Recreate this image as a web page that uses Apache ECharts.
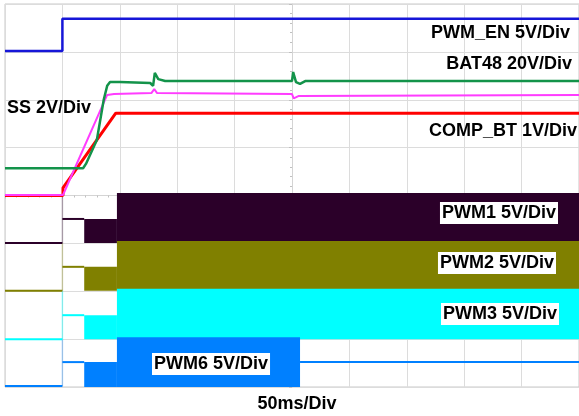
<!DOCTYPE html>
<html>
<head>
<meta charset="utf-8">
<script src="https://cdn.jsdelivr.net/npm/echarts@6/dist/echarts.min.js"></script>
<style>
html,body{margin:0;padding:0;background:#fff;}
#chart{width:579px;height:416px;}
</style>
</head>
<body>
<div id="chart"></div>
<script>
// All values in oscilloscope divisions (x: -5..5, y: -4..4, centre = 0,0)
const xTicks = [-5,-4,-3,-2,-1,0,1,2,3,4,5];
const yTicks = [-4,-3,-2,-1,0,1,2,3,4];

const pwmEn = [[-5,3.02],[-4,3.02],[-4,3.69],[5,3.69]];
const bat48 = [[-5,0.57],[-3.64,0.57],[-3.59,0.66],[-3.40,1.16],[-3.28,2.0],[-3.22,2.29],[-3.17,2.37],[-3.0,2.37],[-2.47,2.35],[-2.44,2.32],[-2.42,2.29],[-2.39,2.56],[-2.33,2.43],[-2.21,2.39],[0,2.39],[0.02,2.58],[0.07,2.37],[0.14,2.33],[0.23,2.39],[1.81,2.39],[1.83,2.35],[1.86,2.39],[5,2.39]];
const ss = [[-5,0.01],[-3.99,0.01],[-3.22,2.10],[-3.1,2.12],[-2.45,2.14],[-2.40,2.22],[-2.35,2.14],[0,2.12],[0.03,2.03],[0.12,2.08],[5,2.10]];
const compBt = [[-5,0],[-3.99,0],[-3.99,0.16],[-3.07,1.72],[5,1.72]];

const pwm1Pre = [[-5,-0.99],[-4,-0.99]];
const pwm1Mid = [[-4,-0.49],[-3.62,-0.49]];
const pwm1Edge = [[-4,-0.99],[-4,0.02]];
const pwm1Blocks = [[-3.62,-3.05,-0.99,-0.49],[-3.05,5,-0.99,0.05]];

const pwm2Pre = [[-5,-1.99],[-4,-1.99]];
const pwm2Mid = [[-4,-1.49],[-3.62,-1.49]];
const pwm2Edge = [[-4,-1.99],[-4,-0.99]];
const pwm2Blocks = [[-3.62,-3.05,-1.99,-1.49],[-3.05,5,-1.99,-0.95]];

const pwm3Pre = [[-5,-3.0],[-4,-3.0]];
const pwm3Mid = [[-4,-2.5],[-3.62,-2.5]];
const pwm3Edge = [[-4,-3.0],[-4,-1.99]];
const pwm3Blocks = [[-3.62,-3.05,-3.0,-2.5],[-3.05,5,-3.0,-1.95]];

const pwm6Pre = [[-5,-3.98],[-4,-3.98]];
const pwm6Mid = [[-4,-3.48],[-3.62,-3.48]];
const pwm6Post = [[0.14,-3.48],[5,-3.48]];
const pwm6Edge = [[-4,-3.98],[-4,-3.0]];
const pwm6Blocks = [[-3.62,-3.05,-4,-3.48],[-3.05,0.14,-4,-2.96]];

const colors = {
  en:'#1616d8', bat:'#13934a', ss:'#ff3cff', comp:'#ff0000',
  p1:'#2b0029', p2:'#808000', p3:'#00ffff', p6:'#0080ff'
};

function lineSeries(data, color, width, opacity){
  return {type:'line', data:data, symbol:'none', silent:true,
    lineStyle:{color:color, width:width, opacity:opacity==null?1:opacity}, z:3};
}
function blockSeries(data, color){
  return {type:'custom', data:data, silent:true, z:2,
    encode:{x:[0,1], y:[2,3]},
    renderItem:function(params, api){
      const p0 = api.coord([api.value(0), api.value(3)]);
      const p1 = api.coord([api.value(1), api.value(2)]);
      return {type:'rect', shape:{x:p0[0], y:p0[1], width:p1[0]-p0[0], height:p1[1]-p0[1]},
        style:{fill:color}};
    }};
}

const font = 'bold 18px "Liberation Sans", Arial, sans-serif';
function label(text, x, y, align, boxed){
  const st = {text:text, x:x, y:y, font:font, fill:'#000', align:align, verticalAlign:'middle'};
  if (boxed){ st.backgroundColor = '#fff'; st.padding = [2,2,2,2]; }
  return {type:'text', z:100, style:st};
}

const chart = echarts.init(document.getElementById('chart'));
chart.setOption({
  animation:false,
  backgroundColor:'#fff',
  grid:{left:5, right:0, top:4, bottom:29, show:true, borderColor:'#c8c8c8', borderWidth:1, backgroundColor:'#fff'},
  xAxis:{type:'value', min:xTicks[0], max:xTicks[xTicks.length-1], interval:1,
    axisLine:{show:true, onZero:true, lineStyle:{color:'#d4d4d4', width:1}},
    axisTick:{show:true, length:3, lineStyle:{color:'#c0c0c0'}},
    minorTick:{show:true, splitNumber:5, length:2, lineStyle:{color:'#c0c0c0'}},
    axisLabel:{show:false},
    splitLine:{show:true, lineStyle:{color:'#dcdcdc', width:1}}},
  yAxis:{type:'value', min:yTicks[0], max:yTicks[yTicks.length-1], interval:1,
    axisLine:{show:true, onZero:true, lineStyle:{color:'#d4d4d4', width:1}},
    axisTick:{show:true, length:3, lineStyle:{color:'#c0c0c0'}},
    minorTick:{show:true, splitNumber:5, length:2, lineStyle:{color:'#c0c0c0'}},
    axisLabel:{show:false},
    splitLine:{show:true, lineStyle:{color:'#dcdcdc', width:1}}},
  series:[
    blockSeries(pwm1Blocks, colors.p1),
    blockSeries(pwm2Blocks, colors.p2),
    blockSeries(pwm3Blocks, colors.p3),
    blockSeries(pwm6Blocks, colors.p6),
    lineSeries(pwm1Edge, colors.p1, 1.5, 0.3),
    lineSeries(pwm2Edge, colors.p2, 1.5, 0.3),
    lineSeries(pwm3Edge, colors.p3, 1.5, 0.4),
    lineSeries(pwm6Edge, colors.p6, 1.5, 0.3),
    lineSeries(pwm1Pre, colors.p1, 2),
    lineSeries(pwm1Mid, colors.p1, 2),
    lineSeries(pwm2Pre, colors.p2, 2),
    lineSeries(pwm2Mid, colors.p2, 2),
    lineSeries(pwm3Pre, colors.p3, 2),
    lineSeries(pwm3Mid, colors.p3, 2),
    lineSeries(pwm6Pre, colors.p6, 2),
    lineSeries(pwm6Mid, colors.p6, 2),
    lineSeries(pwm6Post, colors.p6, 2),
    lineSeries(pwmEn, colors.en, 2.5),
    lineSeries(compBt, colors.comp, 3),
    lineSeries(ss, colors.ss, 2),
    lineSeries(bat48, colors.bat, 2.5)
  ],
  graphic:[
    label('PWM_EN 5V/Div', 570, 33, 'right', false),
    label('BAT48 20V/Div', 572, 64, 'right', false),
    label('SS 2V/Div', 7, 108, 'left', false),
    label('COMP_BT 1V/Div', 577, 131, 'right', false),
    label('PWM1 5V/Div', 558, 213, 'right', true),
    label('PWM2 5V/Div', 556, 263, 'right', true),
    label('PWM3 5V/Div', 559, 314, 'right', true),
    label('PWM6 5V/Div', 152, 364, 'left', true),
    label('50ms/Div', 297, 404, 'center', false)
  ]
});
</script>
</body>
</html>
